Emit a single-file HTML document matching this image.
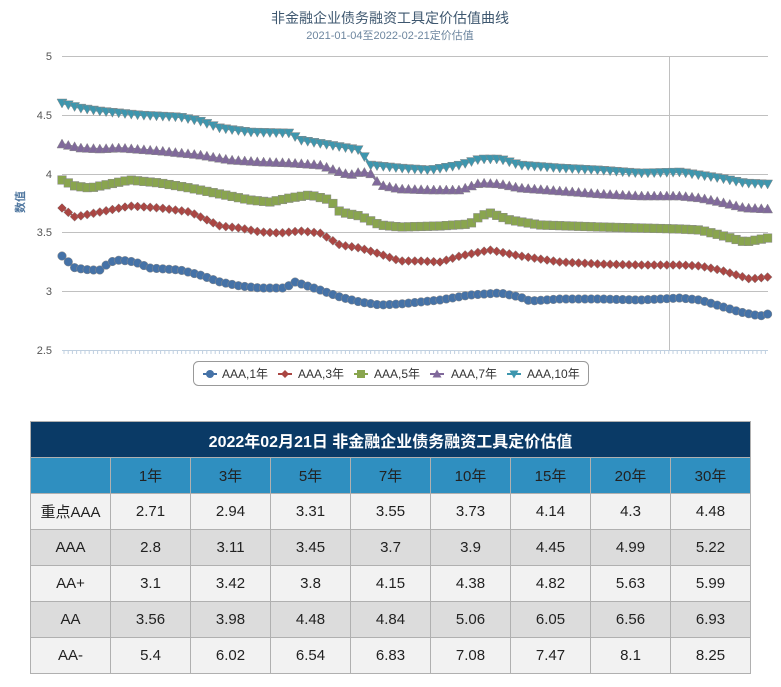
<!DOCTYPE html><html><head><meta charset="utf-8"><style>
body{margin:0;width:781px;height:687px;background:#fff;font-family:"Liberation Sans","Noto Sans CJK SC",sans-serif;position:relative;overflow:hidden}
svg{position:absolute;left:0;top:0}
table{position:absolute;left:30px;top:421px;border-collapse:collapse;width:721px;table-layout:fixed}
td{border:1px solid #b0b0b0;text-align:center;font-size:15px;color:#222;height:35px;padding:0}
.t td{background:#0a3a66;color:#fff;font-weight:bold;font-size:16px;height:35px}
.h td{background:#2f8fc0;color:#222;font-size:15px;height:35px}
.a td{background:#f2f2f2}.b td{background:#dcdcdc}
</style></head><body>
<svg id="s" width="781" height="400" font-family="Liberation Sans,Noto Sans CJK SC,sans-serif">
<text x="390" y="23" text-anchor="middle" font-size="14" fill="#3e576f">非金融企业债务融资工具定价估值曲线</text>
<text x="390" y="39" text-anchor="middle" font-size="11" fill="#6d869f">2021-01-04至2022-02-21定价估值</text>
<g stroke="#c0c0c0" stroke-width="1">
<line x1="62" x2="768" y1="56.5" y2="56.5"/><line x1="62" x2="768" y1="115.5" y2="115.5"/><line x1="62" x2="768" y1="174.5" y2="174.5"/><line x1="62" x2="768" y1="232.5" y2="232.5"/><line x1="62" x2="768" y1="291.5" y2="291.5"/>
<line x1="669.5" x2="669.5" y1="56" y2="350"/>
</g>
<line x1="62" x2="768" y1="350.5" y2="350.5" stroke="#c0d0e0"/>
<g font-size="11" fill="#555" text-anchor="end"><text x="52" y="60">5</text><text x="52" y="119">4.5</text><text x="52" y="178">4</text><text x="52" y="236">3.5</text><text x="52" y="295">3</text><text x="52" y="354">2.5</text></g>
<text transform="translate(24,202) rotate(-90)" text-anchor="middle" font-size="11" fill="#4d759e" font-weight="bold">数值</text>
<g id="ticks" stroke="#c0d0e0"></g>
<g id="ser"></g>
<rect x="193.5" y="361.5" width="395" height="24" rx="5" fill="#fff" stroke="#999"/>
<g font-size="12" fill="#333">
<line x1="203" x2="217" y1="374" y2="374" stroke="#4572a7" stroke-width="2"/><circle cx="210" cy="374" r="4" fill="#4572a7"/><text x="222" y="378">AAA,1年</text>
<line x1="278" x2="292" y1="374" y2="374" stroke="#aa4643" stroke-width="2"/><path d="M285 370l4 4-4 4-4-4z" fill="#aa4643"/><text x="298" y="378">AAA,3年</text>
<line x1="354" x2="368" y1="374" y2="374" stroke="#89a54e" stroke-width="2"/><rect x="357" y="370" width="8" height="8" fill="#89a54e"/><text x="374" y="378">AAA,5年</text>
<path d="M437 369.5l4.5 8h-9z" fill="#80699b"/><line x1="430" x2="444" y1="374" y2="374" stroke="#80699b" stroke-width="2"/><text x="451" y="378">AAA,7年</text>
<path d="M514 378.5l4.5-8h-9z" fill="#3d96ae"/><line x1="507" x2="521" y1="374" y2="374" stroke="#3d96ae" stroke-width="2"/><text x="527" y="378">AAA,10年</text>
</g>
</svg>
<table>
<tr class="t"><td colspan="9">2022年02月21日 非金融企业债务融资工具定价估值</td></tr>
<tr class="h"><td style="width:79px"></td><td>1年</td><td>3年</td><td>5年</td><td>7年</td><td>10年</td><td>15年</td><td>20年</td><td>30年</td></tr>
<tr class="a"><td>重点AAA</td><td>2.71</td><td>2.94</td><td>3.31</td><td>3.55</td><td>3.73</td><td>4.14</td><td>4.3</td><td>4.48</td></tr>
<tr class="b"><td>AAA</td><td>2.8</td><td>3.11</td><td>3.45</td><td>3.7</td><td>3.9</td><td>4.45</td><td>4.99</td><td>5.22</td></tr>
<tr class="a"><td>AA+</td><td>3.1</td><td>3.42</td><td>3.8</td><td>4.15</td><td>4.38</td><td>4.82</td><td>5.63</td><td>5.99</td></tr>
<tr class="b"><td>AA</td><td>3.56</td><td>3.98</td><td>4.48</td><td>4.84</td><td>5.06</td><td>6.05</td><td>6.56</td><td>6.93</td></tr>
<tr class="a"><td>AA-</td><td>5.4</td><td>6.02</td><td>6.54</td><td>6.83</td><td>7.08</td><td>7.47</td><td>8.1</td><td>8.25</td></tr>
</table>
<script>
var t=document.getElementById("ticks"),h="";
for(var x=64;x<768;x+=4.2)h+='<line x1="'+x.toFixed(1)+'" x2="'+x.toFixed(1)+'" y1="350" y2="354"/>';
t.innerHTML=h;
var S=[
["#3d96ae","v",[62,103,80,108,100,111,140,115,180,117,200,121,220,128,250,132,290,133,300,140,330,145,360,150,370,165,400,168,430,170,460,165,480,159,500,159,520,165,560,168,600,170,640,173,680,172,700,175,720,178,745,183,768,184]],
["#80699b","^",[62,144,80,148,100,149,120,148,160,151,200,155,230,160,260,162,290,163,320,165,340,172,350,175,360,172,370,173,380,185,400,189,430,190,460,190,480,183,500,184,520,188,560,191,600,194,640,196,680,196,700,198,720,202,745,208,768,209]],
["#89a54e","s",[62,180,75,186,90,188,110,184,130,180,160,183,190,188,220,194,250,200,270,202,290,198,310,195,330,200,340,212,360,216,380,225,400,227,440,226,470,224,480,216,490,213,510,220,540,225,600,227,640,228,680,229,700,230,720,235,745,242,768,238]],
["#aa4643","d",[62,208,75,217,90,214,110,210,130,206,160,208,190,212,220,226,240,228,260,232,280,233,300,231,320,233,340,245,360,248,380,254,400,261,420,261,440,262,460,256,480,252,490,250,500,252,520,256,560,262,600,264,640,265,680,265,700,266,720,270,750,279,768,277]],
["#4572a7","o",[62,256,75,268,90,270,100,270,110,262,120,260,135,262,150,268,180,270,200,275,220,282,240,286,260,288,285,288,295,282,320,290,340,297,360,302,380,305,400,304,420,302,440,300,470,295,500,293,520,297,530,301,560,299,600,299,640,300,680,298,700,300,720,306,740,312,760,316,768,314]]];
function val(k,x){for(var i=0;i<k.length-2;i+=2){if(x<=k[i+2]){var f=(x-k[i])/(k[i+2]-k[i]);return k[i+1]+f*(k[i+3]-k[i+1]);}}return k[k.length-1];}
var out="";
S.forEach(function(s){var c=s[0],m=s[1],k=s[2],pts=[],mk="";
for(var x=62;x<=768;x+=6.3){var y=val(k,x);pts.push(x.toFixed(1)+","+y.toFixed(1));
if(m=="o")mk+='<circle cx="'+x+'" cy="'+y+'" r="4.3"/>';
else if(m=="d")mk+='<path d="M'+x+' '+(y-4.5)+'l4.5 4.5-4.5 4.5-4.5-4.5z"/>';
else if(m=="s")mk+='<rect x="'+(x-4.3)+'" y="'+(y-4.3)+'" width="8.6" height="8.6"/>';
else if(m=="^")mk+='<path d="M'+x+' '+(y-5)+'l5 9h-10z"/>';
else mk+='<path d="M'+x+' '+(y+5)+'l5-9h-10z"/>';}
out+='<polyline points="'+pts.join(" ")+'" fill="none" stroke="'+c+'" stroke-width="2"/><g fill="'+c+'" stroke="#888" stroke-width="0.5">'+mk+'</g>';});
document.getElementById("ser").innerHTML=out;
</script>
</body></html>
